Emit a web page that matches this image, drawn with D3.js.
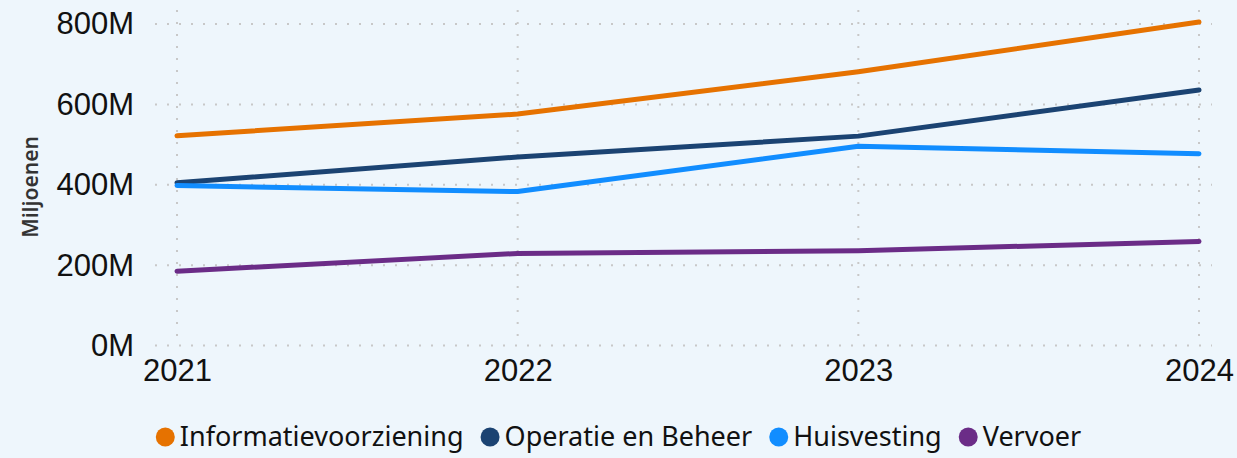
<!DOCTYPE html>
<html>
<head>
<meta charset="utf-8">
<script src="https://cdn.jsdelivr.net/npm/d3@7"></script>
<style>
  body { margin: 0; background: #eef6fc; }
  svg { display: block; font-family: "Segoe UI", "Noto Sans", "Open Sans", sans-serif; }
</style>
</head>
<body>
<script>
// Data
var years = ["2021", "2022", "2023", "2024"];
var seriesNames = ["Informatievoorziening", "Operatie en Beheer", "Huisvesting", "Vervoer"];
var informatievoorziening = [522, 576, 681, 805];
var operatieEnBeheer = [405, 469, 521, 636];
var huisvesting = [398, 383, 496, 477];
var vervoer = [185, 229, 236, 259];
var yTicks = [0, 200, 400, 600, 800];
var colors = ["#e67200", "#1b4372", "#118dff", "#6b2c87"];

var svgWidth = 1237;
var svgHeight = 458;

var svg = d3.select("body")
  .append("svg")
  .attr("width", svgWidth)
  .attr("height", svgHeight);

svg.append("rect")
  .attr("width", svgWidth)
  .attr("height", svgHeight)
  .attr("fill", "#eef6fc");

// scales
var x = d3.scalePoint().domain(years).range([177, 1199]);
var y = d3.scaleLinear().domain([0, 800]).range([345.5, 24]);

// horizontal dotted gridlines
svg.append("g")
  .selectAll("line")
  .data(yTicks)
  .join("line")
  .attr("x1", 155)
  .attr("x2", 1212)
  .attr("y1", d => y(d))
  .attr("y2", d => y(d))
  .attr("stroke", "#c8c8c8")
  .attr("stroke-width", 2)
  .attr("stroke-dasharray", "2,10");

// vertical dotted gridlines
svg.append("g")
  .selectAll("line")
  .data(years)
  .join("line")
  .attr("x1", d => x(d))
  .attr("x2", d => x(d))
  .attr("y1", 10)
  .attr("y2", 346)
  .attr("stroke", "#c8c8c8")
  .attr("stroke-width", 2)
  .attr("stroke-dasharray", "2,10");

// y axis labels
var leftAxis = d3.axisLeft(y).tickValues(yTicks).tickFormat(d => d + "M").tickSize(0).tickPadding(21);
var gy = svg.append("g")
  .attr("transform", "translate(155,0)")
  .call(leftAxis);
gy.select(".domain").remove();
gy.selectAll("text")
  .attr("font-size", 31)
  .attr("font-family", null)
  .attr("fill", "#111");

// x axis labels
var bottomAxis = d3.axisBottom(x).tickSize(0).tickPadding(14);
var gx = svg.append("g")
  .attr("transform", "translate(0,345)")
  .call(bottomAxis);
gx.select(".domain").remove();
gx.selectAll("text")
  .attr("font-size", 31)
  .attr("font-family", null)
  .attr("fill", "#111");

// y axis title
svg.append("text")
  .attr("transform", "translate(38,187) rotate(-90)")
  .attr("text-anchor", "middle")
  .attr("font-size", 21)
  .attr("font-weight", 600)
  .attr("fill", "#333")
  .text("Miljoenen");

// lines
var allSeries = [informatievoorziening, operatieEnBeheer, huisvesting, vervoer];
var drawLine = d3.line()
  .x((d, i) => x(years[i]))
  .y(d => y(d));

svg.append("g")
  .selectAll("path")
  .data(allSeries)
  .join("path")
  .attr("d", d => drawLine(d))
  .attr("fill", "none")
  .attr("stroke", (d, i) => colors[i])
  .attr("stroke-width", 5)
  .attr("stroke-linecap", "round")
  .attr("stroke-linejoin", "round");

// legend
var legend = svg.append("g");
var lx = 0;
seriesNames.forEach(function(name, i) {
  var item = legend.append("g").attr("transform", "translate(" + lx + ",0)");
  item.append("circle")
    .attr("cx", 9.5)
    .attr("cy", 0)
    .attr("r", 9.5)
    .attr("fill", colors[i]);
  var t = item.append("text")
    .attr("x", 24)
    .attr("y", 0)
    .attr("dy", "0.35em")
    .attr("font-size", 27)
    .attr("fill", "#111")
    .text(name);
  lx += 24 + t.node().getComputedTextLength() + 17;
});
var legendWidth = lx - 17;
legend.attr("transform", "translate(" + ((svgWidth - legendWidth) / 2) + ",437)");
</script>
</body>
</html>
